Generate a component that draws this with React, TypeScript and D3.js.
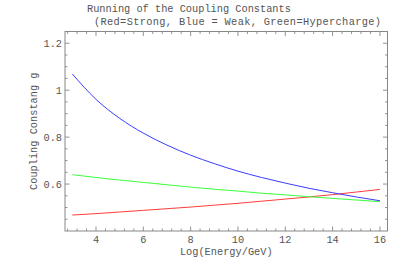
import React, { useEffect, useRef } from 'react'
import * as d3 from 'd3'

// log10(E / GeV)
const logEnergy = [3, 4, 5, 6, 7, 8, 9, 10, 11, 12, 13, 14, 15, 16]
const strong = [0.468, 0.474, 0.481, 0.488, 0.495, 0.502, 0.51, 0.518, 0.527, 0.536, 0.545, 0.555, 0.566, 0.577]
const weak = [1.069, 0.961, 0.88, 0.817, 0.766, 0.723, 0.687, 0.655, 0.628, 0.604, 0.582, 0.563, 0.545, 0.529]
const hypercharge = [0.64, 0.628, 0.617, 0.607, 0.597, 0.587, 0.578, 0.57, 0.561, 0.554, 0.546, 0.539, 0.532, 0.525]

const xMajor = [4, 6, 8, 10, 12, 14, 16]
const yMajor = [0.6, 0.8, 1, 1.2]
const yLabels = ['0.6', '0.8', '1', '1.2']

const FONT = '"Liberation Mono", "DejaVu Sans Mono", monospace'

export default function App() {
  const ref = useRef<SVGSVGElement>(null)

  useEffect(() => {
    const svg = d3.select(ref.current)
    svg.selectAll('*').remove()

    const left = 65
    const right = 387.5
    const top = 31.5
    const bottom = 231

    const x = d3.scaleLinear().domain([2.69, 16.32]).range([left, right])
    const y = d3.scaleLinear().domain([0.4, 1.25]).range([bottom, top])

    const xMinor = d3.range(2.8, 16.3, 0.4).filter(v => !xMajor.some(m => Math.abs(m - v) < 1e-6))
    const yMinor = d3.range(0.45, 1.26, 0.05).filter(v => !yMajor.some(m => Math.abs(m - v) < 1e-6))

    const ticks = svg.append('g').attr('stroke', '#777').attr('stroke-width', 0.8)
    const major = 4.5
    const minor = 2.5

    xMajor.forEach(v => {
      ticks.append('line').attr('x1', x(v)).attr('x2', x(v)).attr('y1', bottom).attr('y2', bottom - major)
      ticks.append('line').attr('x1', x(v)).attr('x2', x(v)).attr('y1', top).attr('y2', top + major)
    })
    xMinor.forEach(v => {
      ticks.append('line').attr('x1', x(v)).attr('x2', x(v)).attr('y1', bottom).attr('y2', bottom - minor)
      ticks.append('line').attr('x1', x(v)).attr('x2', x(v)).attr('y1', top).attr('y2', top + minor)
    })
    yMajor.forEach(v => {
      ticks.append('line').attr('x1', left).attr('x2', left + major).attr('y1', y(v)).attr('y2', y(v))
      ticks.append('line').attr('x1', right).attr('x2', right - major).attr('y1', y(v)).attr('y2', y(v))
    })
    yMinor.forEach(v => {
      ticks.append('line').attr('x1', left).attr('x2', left + minor).attr('y1', y(v)).attr('y2', y(v))
      ticks.append('line').attr('x1', right).attr('x2', right - minor).attr('y1', y(v)).attr('y2', y(v))
    })

    svg
      .append('rect')
      .attr('x', left)
      .attr('y', top)
      .attr('width', right - left)
      .attr('height', bottom - top)
      .attr('fill', 'none')
      .attr('stroke', '#888')
      .attr('stroke-width', 1)

    const line = d3
      .line<number>()
      .x((d, i) => x(logEnergy[i]))
      .y(d => y(d))
      .curve(d3.curveMonotoneX)

    const series: [number[], string][] = [
      [strong, '#ff3c3c'],
      [hypercharge, '#3cff3c'],
      [weak, '#3c3cff'],
    ]
    series.forEach(([values, color]) => {
      svg
        .append('path')
        .attr('d', line(values))
        .attr('fill', 'none')
        .attr('stroke', color)
        .attr('stroke-width', 1)
    })

    const text = svg.append('g').attr('font-family', FONT).attr('font-size', 10.3).attr('fill', '#555')

    xMajor.forEach(v => {
      text.append('text').attr('x', x(v)).attr('y', 243).attr('text-anchor', 'middle').text(String(v))
    })
    yMajor.forEach((v, i) => {
      text
        .append('text')
        .attr('x', left - 3)
        .attr('y', y(v))
        .attr('dy', '0.35em')
        .attr('text-anchor', 'end')
        .text(yLabels[i])
    })

    text.append('text').attr('x', (left + right) / 2).attr('y', 255).attr('text-anchor', 'middle').text('Log(Energy/GeV)')
    text
      .append('text')
      .attr('transform', `translate(37, ${(top + bottom) / 2}) rotate(-90)`)
      .attr('text-anchor', 'middle')
      .text('Coupling Constang g')

    text.append('text').attr('x', 87).attr('y', 12).text('Running of the Coupling Constants')
    text
      .append('text')
      .attr('x', 94)
      .attr('y', 24.5)
      .attr('letter-spacing', 0.35)
      .text('(Red=Strong, Blue = Weak, Green=Hypercharge)')
  }, [])

  return (
    <svg
      ref={ref}
      width={415}
      height={258}
      style={{ position: 'absolute', left: 0, top: 0, background: '#fff' }}
    />
  )
}
